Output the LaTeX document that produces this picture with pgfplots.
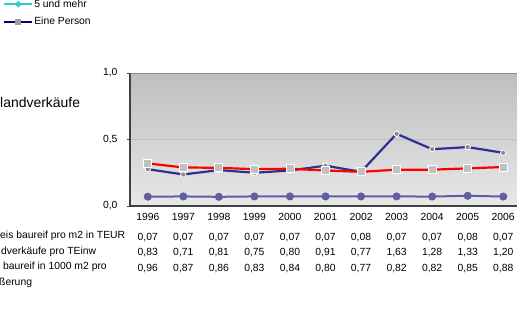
\documentclass[border=0pt]{standalone}
\usepackage{pgfplots}
\pgfplotsset{compat=1.18}
\usepackage{fontspec}
\setmainfont{Liberation Sans}
\definecolor{bgtop}{RGB}{190,190,190}
\definecolor{bgbot}{RGB}{232,232,232}
\definecolor{axisgray}{RGB}{64,64,64}
\definecolor{topgray}{RGB}{140,140,140}
\definecolor{gridgray}{RGB}{192,192,192}
\definecolor{navyline}{RGB}{46,49,146}
\definecolor{markgray}{RGB}{140,140,140}
\definecolor{sqgray}{RGB}{192,192,192}
\definecolor{slate}{RGB}{96,96,160}
\definecolor{lcyan}{RGB}{51,204,204}
\definecolor{lnavy}{RGB}{0,0,128}
\definecolor{lsq}{RGB}{160,160,160}
\begin{document}
\begin{tikzpicture}[x=1bp,y=1bp]
\useasboundingbox (0,0) rectangle (517,310);
\clip (0,0) rectangle (517,310);
\node[anchor=base west, inner sep=0pt, font=\fontsize{14}{16}\selectfont] at (0,202.3) {landverkäufe};
\begin{scope}[font=\fontsize{10.4}{12}\selectfont]
\node[anchor=base west, inner sep=0pt] at (0,72) {eis baureif pro m2 in TEUR};
\node[anchor=base west, inner sep=0pt] at (1,56) {dverkäufe pro TEinw};
\node[anchor=base west, inner sep=0pt] at (0,40.5) {\ baureif in 1000 m2 pro};
\node[anchor=base west, inner sep=0pt] at (-1,25) {ßerung};
\end{scope}
\begin{axis}[
  at={(130bp,104bp)}, anchor=south west,
  scale only axis, width=391bp, height=133bp,
  xmin=-0.5, xmax=10.5, ymin=0, ymax=1,
  axis lines*=left,
  x axis line style={-, draw=axisgray, line width=2bp},
  y axis line style={-, draw=axisgray, line width=1.2bp},
  xtick={0,1,2,3,4,5,6,7,8,9,10},
  xticklabels={
    {1996\\[4.5bp]0,07\\0,83\\0,96},
    {1997\\[4.5bp]0,07\\0,71\\0,87},
    {1998\\[4.5bp]0,07\\0,81\\0,86},
    {1999\\[4.5bp]0,07\\0,75\\0,83},
    {2000\\[4.5bp]0,07\\0,80\\0,84},
    {2001\\[4.5bp]0,07\\0,91\\0,80},
    {2002\\[4.5bp]0,08\\0,77\\0,77},
    {2003\\[4.5bp]0,07\\1,63\\0,82},
    {2004\\[4.5bp]0,07\\1,28\\0,82},
    {2005\\[4.5bp]0,08\\1,33\\0,85},
    {2006\\[4.5bp]0,07\\1,20\\0,88}},
  xtick style={draw=none},
  xticklabel style={align=center, font=\fontsize{10.4}{15.5}\selectfont, anchor=north, yshift=-0.5bp},
  ytick={0,0.5,1},
  yticklabels={{0,0},{0,5},{1,0}},
  yticklabel style={font=\fontsize{10.4}{12}\selectfont, xshift=-6bp},
  tick align=outside, major tick length=3bp,
  ytick style={draw=axisgray, line width=0.8bp},
  ymajorgrids, grid style={color=gridgray, line width=0.6bp},
  axis background/.style={top color=bgtop, bottom color=bgbot},
  clip=false,
  legend style={at={(-0.325,1.56)}, anchor=north west, draw=none, fill=none,
    font=\fontsize{10.4}{12}\selectfont, inner sep=0pt, row sep=6.5bp,
    nodes={inner sep=1bp}},
  legend cell align=left,
  legend image code/.code={\draw[mark repeat=2, mark phase=2, #1] plot coordinates {(0bp,0bp) (14bp,0bp) (28bp,0bp)};},
]
\addlegendimage{lcyan, line width=2.2bp, mark=*, mark size=1.8bp, mark options={fill=lcyan, draw=lcyan}}
\addlegendentry{5 und mehr}
\addlegendimage{lnavy, line width=2.2bp, mark=square*, mark size=2bp, mark options={fill=lsq, draw=lsq}}
\addlegendentry{Eine Person}
\addplot[forget plot, slate, line width=2bp, mark=*, mark size=3bp, mark options={fill=slate, draw=slate}]
  coordinates {(0,0.070) (1,0.072) (2,0.069) (3,0.072) (4,0.072) (5,0.072) (6,0.072) (7,0.072) (8,0.071) (9,0.077) (10,0.071)};
\addplot[forget plot, navyline, line width=2.2bp, mark=*, mark size=2.7bp, mark options={fill=markgray, draw=white, line width=0.8bp}]
  coordinates {(0,0.277) (1,0.237) (2,0.270) (3,0.250) (4,0.267) (5,0.303) (6,0.257) (7,0.543) (8,0.427) (9,0.443) (10,0.400)};
\addplot[forget plot, red, line width=2.2bp, mark=square*, mark size=4bp, mark options={fill=sqgray, draw=white, line width=0.8bp}]
  coordinates {(0,0.320) (1,0.290) (2,0.287) (3,0.277) (4,0.280) (5,0.267) (6,0.257) (7,0.273) (8,0.273) (9,0.283) (10,0.293)};
\draw[topgray, line width=1bp] (rel axis cs:0,1) -- (rel axis cs:1,1);
\end{axis}
\end{tikzpicture}
\end{document}
